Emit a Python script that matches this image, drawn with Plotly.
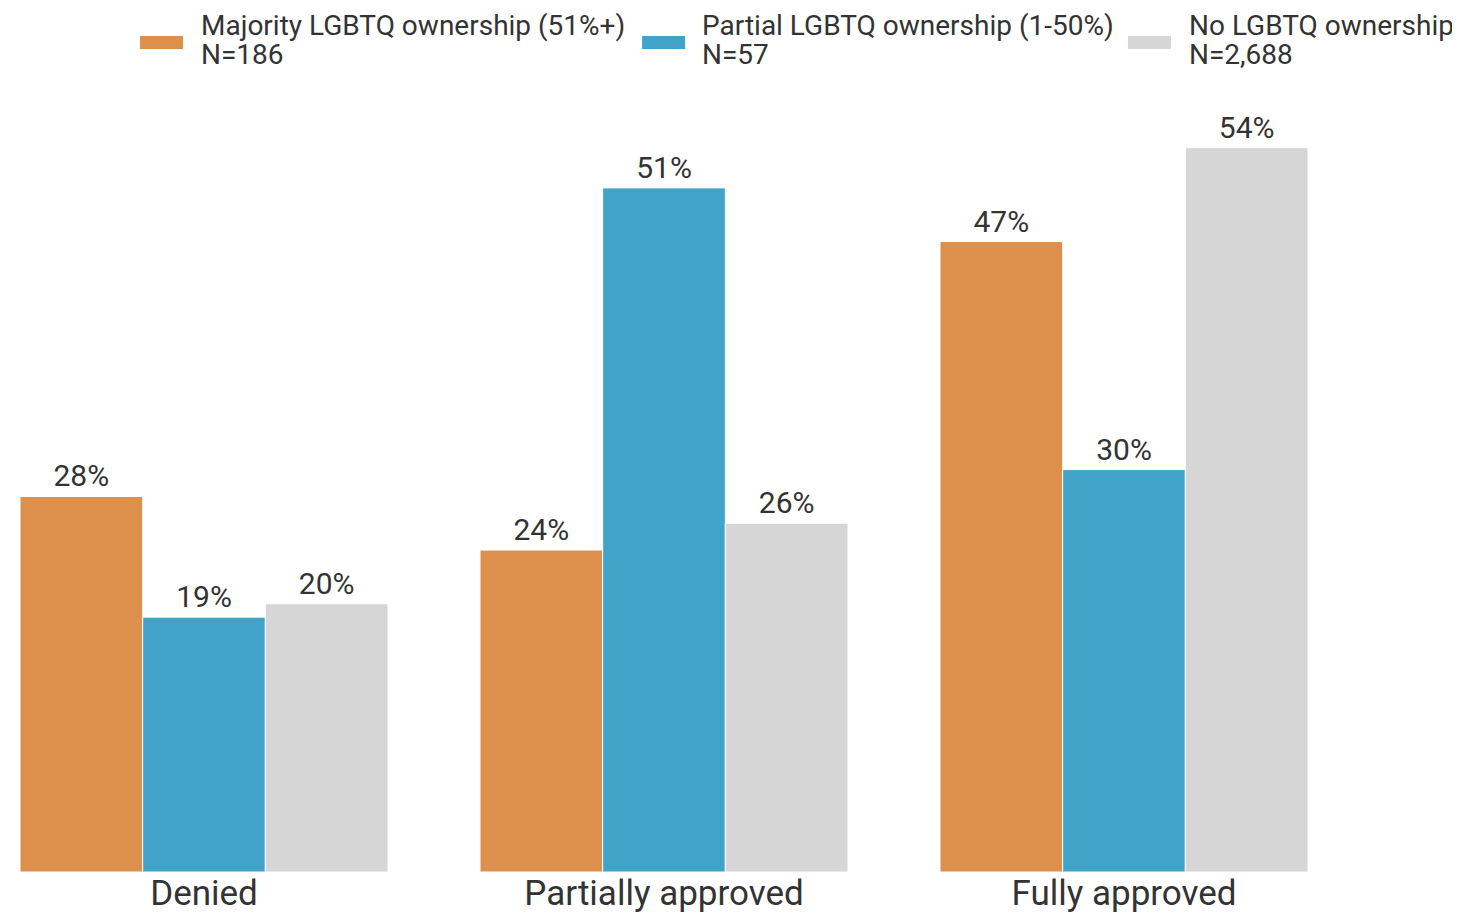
import plotly.graph_objects as go

categories = ["Denied", "Partially approved", "Fully approved"]
series_names = [
    "Majority LGBTQ ownership (51%+)",
    "Partial LGBTQ ownership (1-50%)",
    "No LGBTQ ownership",
]
series_n = ["N=186", "N=57", "N=2,688"]
majority = [28, 24, 47]
partial = [19, 51, 30]
no_lgbtq = [20, 26, 54]
colors = ["#DD8F4C", "#42A3C8", "#D6D6D6"]

FONT = "Roboto, 'Open Sans', sans-serif"
TEXT_COLOR = "#333333"

fig = go.Figure()
for name, values, color in zip(series_names, [majority, partial, no_lgbtq], colors):
    fig.add_trace(go.Bar(
        x=categories,
        y=values,
        name=name,
        marker=dict(color=color, line=dict(color="white", width=1)),
        text=[f"{v}%" for v in values],
        textposition="outside",
        textfont=dict(size=30, color=TEXT_COLOR, family=FONT),
        cliponaxis=False,
        showlegend=False,
    ))

# custom legend: wide swatch + two-line label
swatch_x = [0.0932, 0.483, 0.8602]
label_x = [0.139, 0.528, 0.906]
for name, n, color, sx, lx in zip(series_names, series_n, colors, swatch_x, label_x):
    fig.add_shape(type="rect", xref="paper", yref="paper",
                  x0=sx, x1=sx + 0.0334, y0=1.0578, y1=1.0746,
                  fillcolor=color, line=dict(width=0))
    for txt, ty in [(name, 1.0885), (n, 1.0505)]:
        fig.add_annotation(xref="paper", yref="paper", x=lx, y=ty,
                           xanchor="left", yanchor="middle", align="left",
                           text=txt, showarrow=False,
                           font=dict(size=28, color=TEXT_COLOR, family=FONT))

fig.update_layout(
    width=1460,
    height=914,
    barmode="group",
    bargap=0.2,
    bargroupgap=0,
    plot_bgcolor="white",
    paper_bgcolor="white",
    margin=dict(l=12, r=160, t=86, b=50, autoexpand=False),
    font=dict(family=FONT, color=TEXT_COLOR),
    xaxis=dict(range=[-0.4, 2.4], showgrid=False, showline=False, ticks="",
               automargin=False, ticklabelstandoff=-3,
               tickfont=dict(size=35, color=TEXT_COLOR, family=FONT)),
    yaxis=dict(range=[0, 58], visible=False, showgrid=False, automargin=False),
)

fig.write_html("out.html")
